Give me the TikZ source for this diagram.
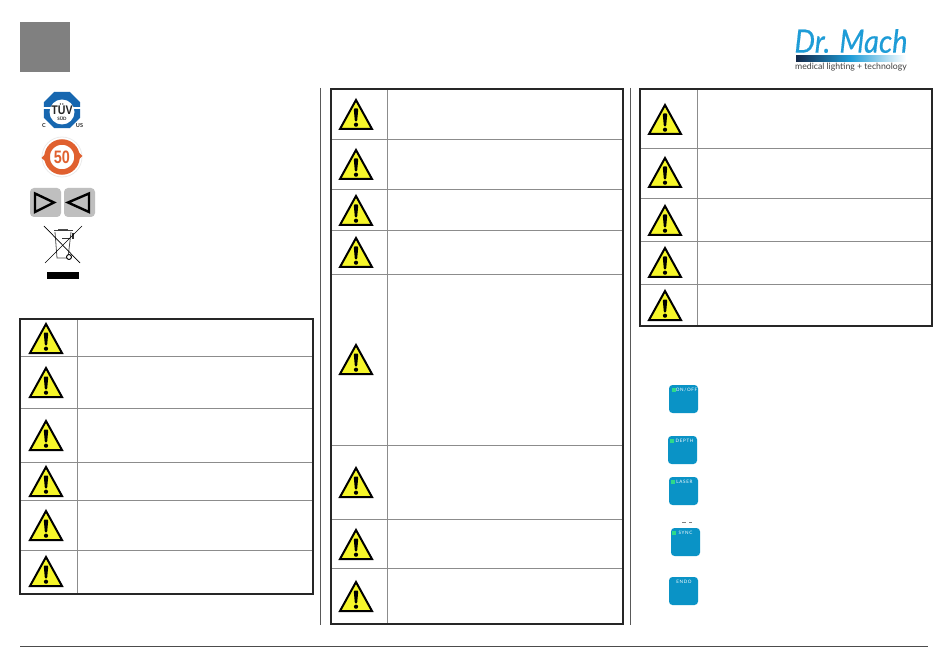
\documentclass[tikz,border=0pt]{standalone}
\usepackage{fontspec}
\setmainfont{Lato}
\newfontfamily\narrowbold{Liberation Sans}
\usetikzlibrary{shapes.geometric}
\definecolor{btn}{HTML}{0A93C6}
\definecolor{led}{HTML}{2ED98A}
\definecolor{tuvblue}{HTML}{1767B0}
\definecolor{rohs}{HTML}{E0602F}
\definecolor{logoblue}{HTML}{1E9CD7}
\definecolor{logonavy}{HTML}{14294A}
\definecolor{rowline}{HTML}{8C8C8C}
\definecolor{warn}{HTML}{F6F62A}
\tikzset{
  x=1pt,y=-1pt,
  frame/.style={draw=black!85,line width=1.5pt},
  rowrule/.style={draw=rowline,line width=.9pt},
  sep/.style={draw=black!65,line width=1pt},
  keybtn/.style={fill=btn,rounded corners=3.5pt,draw=none},
  keylabel/.style={text=white,font=\fontsize{4.6}{4.6}\selectfont\addfontfeature{LetterSpace=14},inner sep=0pt},
  ledspot/.style={fill=led,draw=none},
  warning/.pic={
    \draw[fill=warn,draw=black,line width=2pt,line join=miter] (0,-14) -- (16,15) -- (-16,15) -- cycle;
    \fill[black,rounded corners=1pt] (-2.3,-5.5) -- (2.3,-5.5) -- (1.1,7.5) -- (-1.1,7.5) -- cycle;
    \fill[black] (0,10.7) circle (2.1);
  }
}
\newcommand{\keybutton}[6]{% name, x, y, label, label x, label y
  \fill[keybtn] (#2,#3) rectangle ++(29,28);
  \node[keylabel,anchor=center] (#1) at (#5,#6) {#4};
}
\begin{document}
\begin{tikzpicture}
\useasboundingbox (0,0) rectangle (950,660);
\fill[white] (0,0) rectangle (950,660);
% header
\fill[black!50] (20,22) rectangle (70,72);
% logo
\node[anchor=center,inner sep=0pt,text=logoblue,xscale=.91,font=\fontsize{32}{32}\selectfont\itshape\addfontfeature{FakeBold=.4}] (logoname) at (851,41) {Dr. Mach};
\shade[left color=logonavy,right color=logoblue] (796,56) rectangle (850,62);
\shade[left color=logoblue,right color=white] (850,56) rectangle (906,62);
\node[anchor=center,inner sep=0pt,text=black!75,font=\fontsize{8.7}{8.7}\selectfont] (logotag) at (851,67.5) {medical lighting + technology};
% TUV
\node[regular polygon,regular polygon sides=8,fill=tuvblue,minimum size=39.5pt,inner sep=0pt] (tuv) at (62,110) {};
\fill[white] (62,112) circle (12.5);
\fill[white] (43,107.5) rectangle (81,109);
\node[inner sep=0pt,xscale=.85,font=\fontsize{12.5}{12.5}\selectfont\narrowbold\bfseries,text=black!85] (tuvname) at (62,109) {TÜV};
\node[inner sep=0pt,font=\fontsize{4.5}{4.5}\selectfont\bfseries,text=black!85] (tuvsud) at (62,118.5) {SÜD};
\node[inner sep=0pt,font=\fontsize{5.5}{5.5}\selectfont\bfseries,text=black!85] (tuvc) at (44,126) {C};
\node[inner sep=0pt,font=\fontsize{5.5}{5.5}\selectfont\bfseries,text=black!85] (tuvus) at (79.5,126) {US};
% 50
\draw[black!8,line width=.8pt] (62,157) circle (20);
\draw[rohs,line width=5.5pt] (62,157) circle (15);
\fill[rohs] (41.5,158) -- (50,149) -- (50,165) -- cycle;
\fill[rohs] (82.5,156) -- (74,148) -- (74,164) -- cycle;
\node[inner sep=0pt,xscale=.8,font=\fontsize{18}{18}\selectfont\narrowbold\bfseries,text=rohs] (fifty) at (62,157) {50};
% triangles
\fill[black!25,rounded corners=4pt] (30,188) rectangle (61,217);
\fill[black!25,rounded corners=4pt] (64,188) rectangle (95,217);
\draw[black,line width=2.4pt] (35,193.5) -- (54,202.5) -- (35,212) -- cycle;
\draw[black,line width=2.4pt] (89,193.5) -- (68,202.5) -- (89,212) -- cycle;
% WEEE
\draw[black!70,line width=.8pt] (55,232) -- (57,258) -- (68,258) -- (71,232);
\draw[black!75,line width=1pt] (54,231) -- (73,231);
\draw[black!70,line width=.8pt] (58,229) -- (68,229);
\fill[black!80] (62,238) rectangle (70,239.5);
\fill[black!80] (71.5,233) rectangle (73.5,239);
\draw[black,line width=.7pt] (44,226) -- (80,263);
\draw[black,line width=.7pt] (82,226) -- (45,263);
\draw[black,line width=.9pt,fill=white] (69,257) circle (2.5);
\fill[black] (47,272) rectangle (79,279);
% separators
\draw[sep] (320,88) -- (320,625);
\draw[sep] (630,88) -- (630,625);
\draw[black!70,line width=1pt] (20,646) -- (928,646);
% left table
\foreach \y in {356,408,462,500,550} \draw[rowrule] (20,\y) -- (313,\y);
\draw[rowrule] (77,319) -- (77,594);
\draw[frame] (20,319) rectangle (313,594);
\foreach \y in {338,382,435,481,525,571} \pic at (46,\y) {warning};
% middle table
\foreach \y in {139,189,230,274,445,519,568} \draw[rowrule] (331,\y) -- (623,\y);
\draw[rowrule] (387,89) -- (387,624);
\draw[frame] (331,89) rectangle (623,624);
\foreach \y in {114,164,210,252,359,482,544,596} \pic at (356,\y) {warning};
% right table
\foreach \y in {148,198,241,284} \draw[rowrule] (640,\y) -- (932,\y);
\draw[rowrule] (697,89) -- (697,326);
\draw[frame] (640,89) rectangle (932,326);
\foreach \y in {119,172,220,262,305} \pic at (665,\y) {warning};
% keys
\keybutton{keyonoff}{669}{385}{ON/OFF}{686.5}{390}
\keybutton{keydepth}{668}{436}{DEPTH}{684.5}{441}
\keybutton{keylaser}{669}{477}{LASER}{684.5}{482}
\keybutton{keysync}{671}{528}{SYNC}{685.5}{533}
\keybutton{keyendo}{669}{577}{ENDO}{684}{582}
\fill[ledspot] (672,388) rectangle (675.5,392);
\fill[ledspot] (670,439) rectangle (674,443);
\fill[ledspot] (671,480) rectangle (675,484);
\fill[ledspot] (672,531) rectangle (676,535);
\fill[black!50] (682,522) rectangle (686,522.7);
\fill[black!50] (689,522) rectangle (692,522.7);
\end{tikzpicture}
\end{document}
